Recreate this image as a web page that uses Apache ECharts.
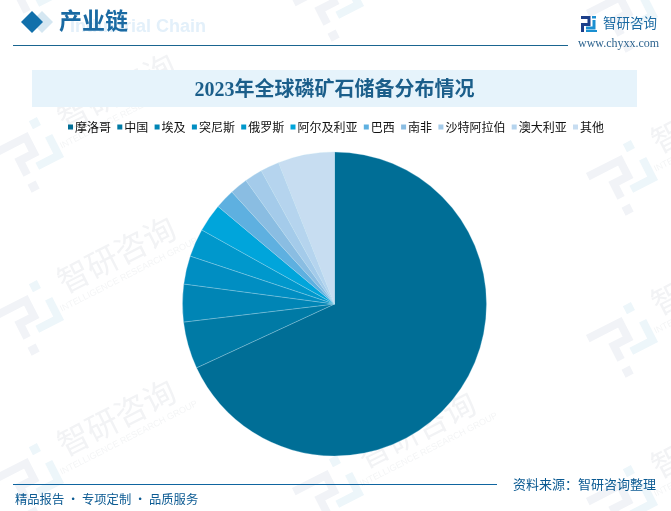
<!DOCTYPE html>
<html><head><meta charset="utf-8">
<style>html,body{margin:0;padding:0;background:#fff}#c{width:671px;height:511px}</style>
<script src="https://cdn.jsdelivr.net/npm/echarts@6/dist/echarts.min.js"></script>
</head><body><div id="c"></div>
<script>
const categories = ['摩洛哥','中国','埃及','突尼斯','俄罗斯','阿尔及利亚','巴西','南非','沙特阿拉伯','澳大利亚','其他'];
const shares = [68.1,5.0,4.0,3.0,3.0,3.0,2.1,1.9,1.9,2.0,6.0];
const palette = ['#006e96','#007aa5','#0085b5','#008ec2','#0098cc','#00a5db','#5eb0e0','#8abde2','#a4cbea','#b5d4ee','#c7ddf1'];
const chartTitle = '2023年全球磷矿石储备分布情况';

const sans = '"Noto Sans CJK SC"';
const serif = '"Liberation Serif","Noto Sans CJK SC"';
const ROT = 27 * Math.PI / 180;

function wmLogo(x, y) {
  const g = '#f1f3f7', b = '#edf6fa';
  const line = (pts, c) => ({type:'polyline', shape:{points:pts}, style:{stroke:c, lineWidth:8, fill:null}, silent:true});
  const sq = (px, py, c) => ({type:'rect', shape:{x:px, y:py, width:9, height:9}, style:{fill:c}, silent:true});
  return {type:'group', x, y, rotation:ROT, silent:true, z:0, children:[
    line([[-33,-15],[3,-15],[3,3],[-13,3],[-13,19]], g),
    line([[24,-6],[24,16],[0,16]], b),
    sq(13,-28,b), sq(-17,28,g)
  ]};
}
function wmText(x, y) {
  return {type:'group', x, y, rotation:ROT, silent:true, z:0, children:[
    {type:'text', x:0, y:-4, style:{text:'智研咨询', font:'32px '+sans, fill:'#f2f3f5', align:'center', verticalAlign:'middle'}},
    {type:'text', x:2, y:20, style:{text:'INTELLIGENCE RESEARCH GROUP', font:'9px "Liberation Sans"', fill:'#f4f5f6', align:'center', verticalAlign:'middle'}}
  ]};
}
const logoSpots = [[30,-11],[30,152],[30,315],[30,478],[330,1],[330,490],[624,12],[624,175],[624,337],[624,500]];
const textSpots = [[118,95],[118,258],[118,421],[418,433],[712,118],[712,280],[712,443]];

function brandLogo(x, y) {
  const d = '#1c3f8a', b = '#1a8fd1';
  const line = (pts, c, w) => ({type:'polyline', shape:{points:pts}, style:{stroke:c, lineWidth:w, fill:null}});
  return {type:'group', x, y, silent:true, z:5, children:[
    line([[0,1.5],[8,1.5],[8,8.5],[1.5,8.5],[1.5,16]], d, 3),
    line([[13,4],[13,12],[5,12]], b, 3),
    line([[5,15],[16,15]], b, 2),
    {type:'rect', shape:{x:11,y:0,width:4,height:2.5}, style:{fill:b}}
  ]};
}

const txt = (x, y, text, font, fill, align, extra) => ({type:'text', x, y, silent:true, z:5,
  style:Object.assign({text, font, fill, align:align||'left', verticalAlign:'middle'}, extra||{})});
const hline = (x1, x2, y, c) => ({type:'rect', silent:true, z:5, shape:{x:x1, y:y, width:x2-x1, height:1}, style:{fill:c}});
const diamond = (cx, cy, r, c) => ({type:'polygon', silent:true, z:3, shape:{points:[[cx,cy-r],[cx+r,cy],[cx,cy+r],[cx-r,cy]]}, style:{fill:c}});

const graphics = [
  ...logoSpots.map(p => wmLogo(p[0], p[1])),
  ...textSpots.map(p => wmText(p[0], p[1])),
  {type:'rect', silent:true, z:1, shape:{x:32,y:70,width:605,height:37}, style:{fill:'#e6f3fb'}},
  diamond(42,22,11,'#d5e7f2'),
  diamond(32,22,11,'#1170ab'),
  {type:'text', x:70, y:27, silent:true, z:2, style:{text:'Industrial Chain', font:'bold 18px "Liberation Sans"', fill:'#e3f0fa', align:'left', verticalAlign:'middle'}},
  txt(59, 23, '产业链', 'bold 23px '+serif, '#1a6aa3'),
  hline(13, 568, 45, '#1a6590'),
  brandLogo(581, 16),
  txt(603, 23, '智研咨询', '13.5px '+sans, '#1a6aa3'),
  txt(578, 44, 'www.chyxx.com', '12px "Liberation Serif"', '#2f6590'),
  txt(334.5, 91, chartTitle, 'bold 20px '+serif, '#1b5e8a', 'center'),
  hline(13, 497, 484, '#0f65a0'),
  txt(513, 484, '资料来源：智研咨询整理', '13px '+sans, '#0b5a92'),
  txt(15, 499, '精品报告 · 专项定制 · 品质服务', '12.3px '+sans, '#0b5a92')
];

const chart = echarts.init(document.getElementById('c'), null, {renderer:'canvas'});
chart.setOption({
  animation:false,
  backgroundColor:'#fff',
  color:palette,
  graphic:{elements:graphics},
  legend:{
    data:categories, left:63, top:116, orient:'horizontal', width:620,
    icon:'rect', itemWidth:5, itemHeight:5, itemGap:6.3,
    itemStyle:{borderWidth:0},
    textStyle:{fontFamily:sans, fontSize:12, color:'#111', padding:[0,0,0,-3]}
  },
  series:[{
    type:'pie', center:[334.5,304], radius:[0,152], startAngle:90, clockwise:true,
    label:{show:false}, labelLine:{show:false}, silent:true, z:10,
    itemStyle:{borderColor:'rgba(190,225,240,0.7)', borderWidth:0.4},
    data:categories.map((n,i)=>({name:n, value:shares[i]}))
  }]
});
</script></body></html>
